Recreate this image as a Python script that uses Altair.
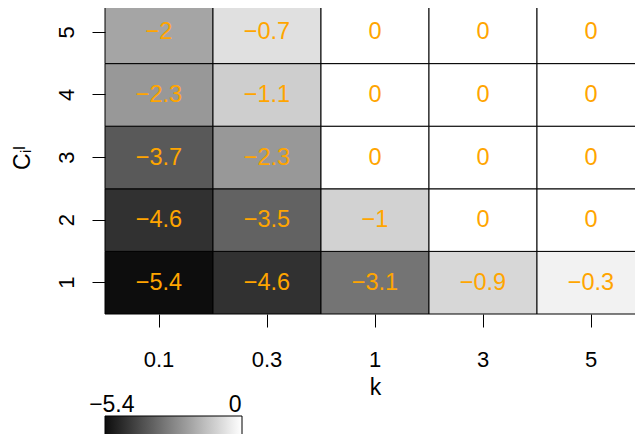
import altair as alt
import pandas as pd

x_labels = ["0.1", "0.3", "1", "3", "5"]
y_labels = ["1", "2", "3", "4", "5"]
row1 = [-5.4, -4.6, -3.1, -0.9, -0.3]
row2 = [-4.6, -3.5, -1.0, 0, 0]
row3 = [-3.7, -2.3, 0, 0, 0]
row4 = [-2.3, -1.1, 0, 0, 0]
row5 = [-2.0, -0.7, 0, 0, 0]
rows = [row1, row2, row3, row4, row5]

records = []
for yl, row in zip(y_labels, rows):
    for xl, v in zip(x_labels, row):
        lab = f"{v:g}".replace("-", "\u2212")
        records.append({"k": xl, "C": yl, "v": v, "lab": lab})
df = pd.DataFrame(records)

FONT = "Liberation Sans"

x_enc = alt.X("k:O", sort=x_labels, title="k",
              scale=alt.Scale(paddingInner=0, paddingOuter=0, range=[0, 540]),
              axis=alt.Axis(labelAngle=0, domain=False, tickSize=13, tickColor="black",
                            labelPadding=22, titlePadding=6, labelFontSize=22,
                            titleFontSize=23, titleFontWeight="normal",
                            labelColor="black", titleColor="black",
                            labelFont=FONT, titleFont=FONT))
y_enc = alt.Y("C:O", sort=y_labels[::-1], title="C\u1d62\u02e1",
              scale=alt.Scale(paddingInner=0, paddingOuter=0, range=[-7, 306]),
              axis=alt.Axis(labelAngle=270, labelAlign="center", labelBaseline="bottom",
                            domain=False, tickSize=13, tickColor="black",
                            labelPadding=14, titlePadding=21, labelFontSize=22,
                            titleFontSize=23, titleFontWeight="normal",
                            labelColor="black", titleColor="black",
                            labelFont=FONT, titleFont=FONT))

rect = alt.Chart(df).mark_rect(stroke="black", strokeWidth=1).encode(
    x=x_enc, y=y_enc,
    color=alt.Color("v:Q",
                    scale=alt.Scale(domain=[-5.4, 0], range=["#0d0d0d", "#ffffff"],
                                    interpolate="rgb"),
                    legend=alt.Legend(orient="none", legendX=0, legendY=408,
                                      direction="horizontal", title=None,
                                      gradientLength=137, gradientThickness=19,
                                      gradientStrokeColor="black", gradientStrokeWidth=1,
                                      values=[-5.13, -0.27],
                                      labelExpr="datum.value < -2 ? '\u22125.4' : '0'",
                                      labelOffset={"expr": "-41"}, labelFontSize=23,
                                      labelFont=FONT, labelColor="black")))

text = alt.Chart(df).mark_text(color="#FFA500", fontSize=23.5, font=FONT).encode(
    x=alt.X("k:O", sort=x_labels), y=alt.Y("C:O", sort=y_labels[::-1]), text="lab:N")

chart = alt.layer(rect, text).properties(
    width=530, height=306,
    autosize=alt.AutoSizeParams(type="none"),
    padding={"left": 97, "top": 0, "right": 0, "bottom": 120},
).configure_view(strokeWidth=0)

chart.save("out.html", embed_options={"renderer": "svg", "actions": False})
